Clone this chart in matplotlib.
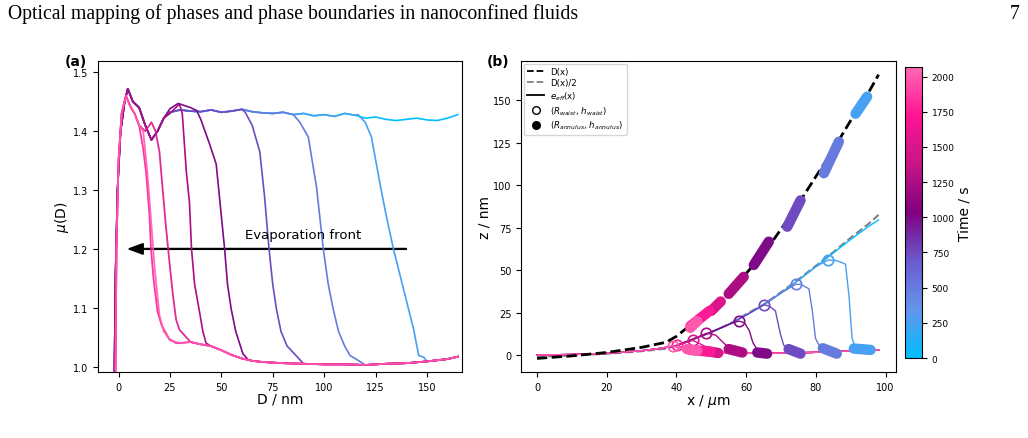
import matplotlib
matplotlib.use('Agg')
import matplotlib.pyplot as plt
from matplotlib.colors import LinearSegmentedColormap, Normalize
from matplotlib.cm import ScalarMappable
from matplotlib.lines import Line2D

# colour scale for time
cmap = LinearSegmentedColormap.from_list(
    'evap', ['deepskyblue', 'cornflowerblue', 'slateblue', 'purple',
             'mediumvioletred', 'deeppink', 'hotpink'])
t_max = 2070
norm = Normalize(vmin=0, vmax=t_max)

# ---------------- panel (a): mu(D) ----------------
start_D = [-2, -1.5, -0.5, 1, 3, 4.5, 7, 10, 13, 16, 19, 22]
start_mu = [0.99, 1.15, 1.3, 1.4, 1.45, 1.472, 1.45, 1.44, 1.41, 1.385, 1.40, 1.422]

plateau_D = [25, 30, 35, 40, 45, 50, 55, 60, 65, 70, 75, 80, 85, 90, 95, 100, 105,
             110, 115, 120, 125, 130, 135, 140, 145, 150, 155, 160, 165]
plateau_mu = [1.432, 1.436, 1.434, 1.433, 1.436, 1.432, 1.434, 1.437, 1.433, 1.431,
              1.43, 1.432, 1.428, 1.43, 1.426, 1.428, 1.425, 1.43, 1.427, 1.422,
              1.424, 1.42, 1.418, 1.42, 1.422, 1.419, 1.418, 1.422, 1.428]

base_D = [30, 35, 40, 45, 50, 55, 60, 65, 70, 80, 90, 100, 110, 120, 130, 140,
          150, 155, 160, 165]
base_mu = [1.04, 1.042, 1.038, 1.035, 1.028, 1.02, 1.014, 1.01, 1.008, 1.006,
           1.005, 1.004, 1.004, 1.003, 1.005, 1.006, 1.009, 1.011, 1.013, 1.017]

pink_start_D = [-1.5, -1, 0, 1.5, 3.6, 6, 7.8, 10]
pink_start_mu = [0.99, 1.2, 1.35, 1.43, 1.46, 1.44, 1.43, 1.41]

# blue curves: drop part after the plateau
a_times_blue = [250, 500, 750]
drop_D = {
    250: [116.5, 120, 123, 127.2, 130, 133.7, 138.6, 143.5, 146, 148.5],
    500: [88.2, 92.3, 96.3, 99.6, 102, 104.4, 107, 110, 112.6, 116],
    750: [61.6, 65, 68.7, 71, 73.2, 75, 76.8, 79, 82, 85],
}
drop_mu = {
    250: [1.428, 1.415, 1.39, 1.31, 1.26, 1.2, 1.132, 1.064, 1.019, 1.016],
    500: [1.415, 1.39, 1.305, 1.2, 1.14, 1.098, 1.06, 1.035, 1.019, 1.012],
    750: [1.432, 1.41, 1.365, 1.29, 1.2, 1.14, 1.098, 1.06, 1.035, 1.024],
}

# later curves: full head after the start
head_D = {
    1000: [25, 29, 35, 38, 40, 44.3, 47.5, 51.6, 53, 54.8, 57, 60.5, 63],
    1250: [25, 29.6, 31, 32, 33, 34.5, 35.5, 37, 39.4, 41, 42.6],
    1500: [13, 16, 18, 19.9, 21, 23, 24.7, 26.5, 28, 29.6],
    1750: [12, 13.4, 15, 15.8, 17, 19, 21, 24.7, 28],
    2000: [12, 14, 16, 17.5, 19.9, 22, 25],
}
head_mu = {
    1000: [1.438, 1.447, 1.44, 1.435, 1.42, 1.378, 1.344, 1.2, 1.14, 1.098, 1.06, 1.022, 1.012],
    1250: [1.43, 1.446, 1.43, 1.38, 1.33, 1.279, 1.2, 1.14, 1.093, 1.06, 1.04],
    1500: [1.40, 1.415, 1.40, 1.365, 1.32, 1.24, 1.18, 1.12, 1.08, 1.063],
    1750: [1.37, 1.33, 1.26, 1.2, 1.15, 1.093, 1.07, 1.047, 1.04],
    2000: [1.40, 1.33, 1.24, 1.17, 1.087, 1.06, 1.045],
}

# ---------------- panel (b): profiles ----------------
Dx_x = [0, 10, 20, 30, 37, 40, 43, 47, 50, 55, 60, 65, 70, 75, 80, 85, 90, 95, 98]
Dx_z = [-2, -0.5, 1.5, 4.5, 7.5, 11, 16, 22, 27, 36, 48, 59.5, 74, 89, 105, 121, 138, 154, 165]

rise_x = [0, 10, 20, 30, 35, 40, 45, 50, 55, 60, 65, 70, 75, 80, 85, 90, 95, 98]
rise_z = [0, 0.3, 1, 2.5, 3.8, 5.5, 9.5, 13.5, 18, 23.5, 29.5, 36.5, 44, 52, 60, 68, 75.5, 79.5]

bottom_x = [40, 45, 50, 55, 60, 65, 70, 75, 80, 85, 90, 95, 98]
bottom_z = [3.5, 2, 1.5, 1.2, 1.0, 1.0, 1.1, 1.3, 1.6, 2, 2.4, 2.7, 3.0]

b_times = [250, 500, 750, 1000, 1250, 1500, 1750, 2000]
waist_x = [83.5, 74.2, 65.1, 57.9, 48.6, 44.7, 40.2, 38.9]
waist_z = [55.9, 41.6, 29.4, 20.0, 12.8, 8.6, 5.9, 5.4]
fall_x = [[86.1, 88.5, 89.5, 90.4, 91.4], [75.6, 78, 79, 79.9, 81.3],
          [66.5, 68.4, 69.8, 70.8], [59.5, 60.9, 61.9, 62.9],
          [51.3, 53.2, 54.7], [47.5, 49.5], [43], [42]]
fall_z = [[55.5, 53.5, 35, 9.8, 4.3], [41.6, 39, 26, 9.8, 4.3],
          [29, 26, 12.6, 5.7], [19, 14.4, 7.5, 4],
          [11.7, 7.8, 4.9], [5.9, 3], [3], [3.2]]

# annulus blobs (start and end of each cluster)
up_x0 = [91.4, 82.3, 71.8, 62.2, 55.0, 50.0, 44.0, 44.0]
up_z0 = [142, 107, 75.5, 53, 36, 26, 17, 16]
up_x1 = [94.7, 86.6, 75.6, 66.5, 59.3, 52.7, 49.5, 46.0]
up_z1 = [152, 125.5, 91, 66.7, 46, 31.5, 26, 20]
low_x0 = [90.9, 82.0, 72.2, 63.2, 55.0, 48.0, 44.0, 43.0]
low_z0 = [3.8, 4.0, 3.5, 1.5, 3.5, 2.5, 3.0, 3.5]
low_x1 = [95.7, 86.0, 75.6, 66.0, 58.9, 52.0, 49.7, 46.0]
low_z1 = [3.0, 0.8, 0.8, 0.8, 1.5, 1.2, 2.0, 2.5]


fig = plt.figure(figsize=(10.28, 4.39), dpi=100)
ax1 = fig.add_axes([0.0953, 0.1503, 0.354, 0.7084])
ax2 = fig.add_axes([0.5068, 0.1503, 0.3648, 0.7084])
cax = fig.add_axes([0.8804, 0.1822, 0.0165, 0.6636])

fig.text(0.008, 0.968, 'Optical mapping of phases and phase boundaries in nanoconfined fluids',
         family='Liberation Serif', fontsize=14.2, va='center', ha='left')
fig.text(0.992, 0.968, '7', family='Liberation Serif', fontsize=14.2, va='center', ha='right')

# panel (a)
ax1.plot(start_D + plateau_D, start_mu + plateau_mu, color=cmap(norm(0)), lw=1.2)
for t in a_times_blue:
    d0 = drop_D[t][0]
    d1 = drop_D[t][-1]
    xs = start_D + [d for d in plateau_D if d < d0] + drop_D[t] + [d for d in base_D if d > d1 + 1]
    ys = (start_mu + [m for d, m in zip(plateau_D, plateau_mu) if d < d0] + drop_mu[t]
          + [m for d, m in zip(base_D, base_mu) if d > d1 + 1])
    ax1.plot(xs, ys, color=cmap(norm(t)), lw=1.2)
for t in [1000, 1250]:
    d1 = head_D[t][-1]
    xs = start_D + head_D[t] + [d for d in base_D if d > d1 + 1]
    ys = start_mu + head_mu[t] + [m for d, m in zip(base_D, base_mu) if d > d1 + 1]
    ax1.plot(xs, ys, color=cmap(norm(t)), lw=1.2)
for t in [1500, 1750, 2000]:
    d1 = head_D[t][-1]
    xs = pink_start_D + head_D[t] + [d for d in base_D if d > d1 + 1]
    ys = pink_start_mu + head_mu[t] + [m for d, m in zip(base_D, base_mu) if d > d1 + 1]
    ax1.plot(xs, ys, color=cmap(norm(t)), lw=1.3, alpha=0.9)

ax1.arrow(140, 1.2, -135, 0, width=0.0015, head_width=0.018, head_length=7,
          length_includes_head=True, color='black')
ax1.text(90, 1.225, 'Evaporation front', ha='center', va='center', fontsize=9.5)

ax1.set_xlim(-10, 167)
ax1.set_ylim(0.991, 1.519)
ax1.set_xticks([0, 25, 50, 75, 100, 125, 150])
ax1.set_yticks([1.0, 1.1, 1.2, 1.3, 1.4, 1.5])
ax1.tick_params(labelsize=7)
ax1.set_xlabel('D / nm', fontsize=10, labelpad=0)
ax1.set_ylabel(r'$\mu$(D)', fontsize=10, labelpad=1)
ax1.text(-0.09, 1.0, '(a)', transform=ax1.transAxes, fontsize=10, fontweight='bold',
         ha='left', va='center')

# panel (b)
ax2.plot(Dx_x, Dx_z, color='black', ls='--', lw=2, zorder=3)
ax2.plot(Dx_x, [z / 2 for z in Dx_z], color='grey', ls='--', lw=1.5, zorder=1)
ax2.plot(rise_x, rise_z, color=cmap(norm(0)), lw=1)
for i, t in enumerate(b_times):
    c = cmap(norm(t))
    end = fall_x[i][-1]
    xs = [x for x in rise_x if x < waist_x[i]] + [waist_x[i]] + fall_x[i] + [x for x in bottom_x if x > end + 1]
    zs = ([z for x, z in zip(rise_x, rise_z) if x < waist_x[i]] + [waist_z[i]] + fall_z[i]
          + [z for x, z in zip(bottom_x, bottom_z) if x > end + 1])
    ax2.plot(xs, zs, color=c, lw=1)
    ax2.plot(waist_x[i], waist_z[i], 'o', mfc='none', mec=c, ms=7.5, mew=1.2)
    ax2.plot([up_x0[i], up_x1[i]], [up_z0[i], up_z1[i]], color=c, lw=7.5,
             solid_capstyle='round', zorder=4)
    ax2.plot([low_x0[i], low_x1[i]], [low_z0[i], low_z1[i]], color=c, lw=7.5,
             solid_capstyle='round', zorder=4)

handles = [
    Line2D([], [], color='black', ls='--', lw=1.3),
    Line2D([], [], color='grey', ls='--', lw=1.3),
    Line2D([], [], color='black', lw=1.3),
    Line2D([], [], color='black', marker='o', mfc='none', ls='none', ms=5.5),
    Line2D([], [], color='black', marker='o', ls='none', ms=5.5),
]
labels = ['D(x)', 'D(x)/2', r'$e_{eff}$(x)', r'($R_{waist}$, $h_{waist}$)',
          r'($R_{annulus}$, $h_{annulus}$)']
ax2.legend(handles, labels, loc='upper left', fontsize=6.2, handlelength=2.0,
           borderaxespad=0.3, labelspacing=0.25, handletextpad=0.7)

ax2.set_xlim(-4.6, 103)
ax2.set_ylim(-10, 173)
ax2.set_xticks([0, 20, 40, 60, 80, 100])
ax2.set_yticks([0, 25, 50, 75, 100, 125, 150])
ax2.tick_params(labelsize=7)
ax2.set_xlabel(r'x / $\mu$m', fontsize=10, labelpad=0)
ax2.set_ylabel('z / nm', fontsize=10, labelpad=1)
ax2.text(-0.09, 1.0, '(b)', transform=ax2.transAxes, fontsize=10, fontweight='bold',
         ha='left', va='center')

sm = ScalarMappable(norm=norm, cmap=cmap)
cb = fig.colorbar(sm, cax=cax)
cb.set_ticks([0, 250, 500, 750, 1000, 1250, 1500, 1750, 2000])
cb.ax.tick_params(labelsize=6.5)
cb.set_label('Time / s', fontsize=10, labelpad=2)

plt.savefig('out.png', dpi=100)
plt.close()
